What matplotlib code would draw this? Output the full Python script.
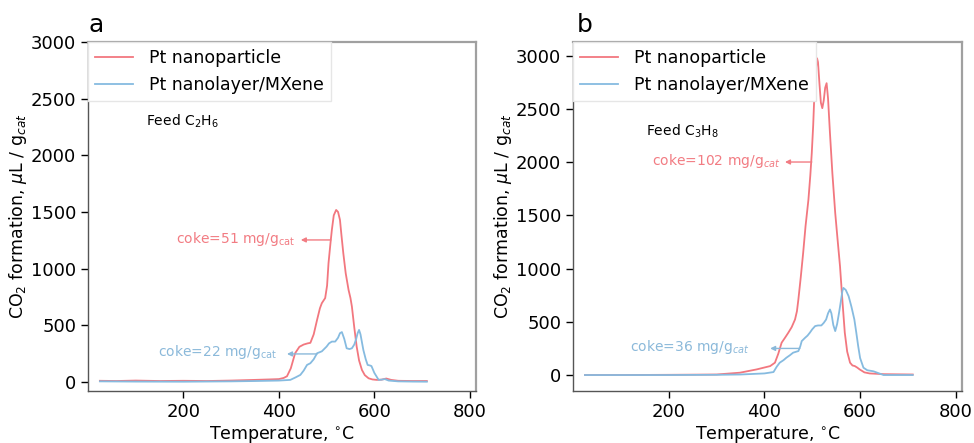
import matplotlib
matplotlib.use("Agg")
import matplotlib.pyplot as plt

# Colors
RED = "#f2777f"
BLUE = "#86bbe0"
RED_TXT = "#f27c83"
BLUE_TXT = "#8bb9da"

# Panel a: feed C2H6
a_red_T = [25, 60, 100, 150, 200, 250, 300, 350, 380, 400, 410, 417, 425, 434, 443, 452, 460, 466,
           473, 480, 486, 490, 497, 501, 504, 508, 511, 515, 520, 524, 528, 531, 535, 540, 546, 550,
           553, 558, 563, 568, 574, 580, 588, 596, 605, 615, 625, 635, 650, 680, 710]
a_red_v = [10, 8, 12, 8, 10, 8, 12, 18, 22, 25, 35, 50, 120, 253, 310, 330, 340, 345,
           420, 547, 650, 695, 740, 850, 1048, 1220, 1341, 1470, 1518, 1500, 1430, 1300, 1136, 960, 812, 740,
           665, 480, 312, 190, 106, 60, 32, 22, 18, 20, 30, 18, 10, 8, 8]

a_blue_T = [25, 100, 200, 300, 350, 400, 424, 435, 445, 452, 459, 466, 473, 480, 490, 500, 505, 511,
            518, 524, 528, 532, 537, 542, 548, 553, 558, 562, 565, 568, 571, 577, 582, 586, 591, 594,
            600, 609, 615, 622, 630, 650, 680, 710]
a_blue_v = [5, 3, 2, 5, 8, 12, 18, 40, 62, 100, 150, 165, 200, 253, 270, 312, 340, 356,
            356, 390, 430, 440, 380, 297, 290, 297, 330, 380, 430, 459, 420, 282, 200, 150, 145, 140,
            80, 18, 20, 25, 12, 5, 3, 2]

# Panel b: feed C3H8
b_red_T = [25, 100, 200, 300, 349, 384, 412, 422, 429, 436, 443, 450, 457, 464, 468, 471, 476, 481,
           486, 492, 496, 499, 502, 504, 507, 510, 512, 515, 518, 521, 524, 527, 530, 533, 537, 542,
           548, 553, 558, 563, 568, 573, 579, 584, 589, 594, 599, 609, 620, 650, 710]
b_red_v = [0, 0, 2, 5, 22, 53, 84, 116, 200, 304, 350, 398, 450, 522, 600, 710, 920, 1148,
           1400, 1648, 1880, 2086, 2350, 2586, 2850, 2977, 2940, 2743, 2560, 2508, 2580, 2700, 2743, 2600, 2274, 1900,
           1523, 1270, 1023, 700, 398, 220, 116, 90, 84, 70, 53, 25, 15, 8, 5]

b_blue_T = [25, 100, 200, 300, 350, 400, 419, 426, 432, 440, 446, 453, 460, 467, 471, 475, 478, 485,
            490, 495, 500, 506, 512, 519, 524, 529, 533, 537, 540, 544, 548, 552, 556, 560, 563, 565,
            570, 576, 582, 588, 592, 596, 600, 607, 615, 628, 640, 649, 680, 710]
b_blue_v = [0, 0, 0, 2, 5, 15, 28, 80, 116, 140, 163, 185, 210, 220, 225, 270, 319, 350,
            370, 398, 430, 460, 466, 466, 490, 522, 580, 616, 580, 470, 413, 480, 585, 700, 790, 819,
            800, 741, 640, 522, 400, 272, 160, 69, 45, 35, 15, 0, 0, 0]

LABELS = ["Pt nanoparticle", "Pt nanolayer/MXene"]
YTICKS = [0, 500, 1000, 1500, 2000, 2500, 3000]
XTICKS = [200, 400, 600, 800]

plt.rcParams["font.family"] = ["DejaVu Sans"]
plt.rcParams["mathtext.fontset"] = "dejavusans"

fig = plt.figure(figsize=(9.74, 4.43), dpi=100)
ax_a = fig.add_axes([0.0903, 0.1174, 0.3984, 0.7878])
ax_b = fig.add_axes([0.5883, 0.1174, 0.3994, 0.7878])


def style_axis(ax, ylim):
    ax.set_xlim(0, 813)
    ax.set_ylim(*ylim)
    ax.set_xticks(XTICKS)
    ax.set_yticks(YTICKS)
    ax.tick_params(direction="out", length=5, width=1, labelsize=13, colors="black")
    for side in ["left", "bottom"]:
        ax.spines[side].set_color("#555555")
        ax.spines[side].set_linewidth(1.0)
    for side in ["top", "right"]:
        ax.spines[side].set_color("#a0a0a0")
        ax.spines[side].set_linewidth(1.6)
    ax.set_xlabel("Temperature, $^{\\circ}$C", fontsize=12.5, labelpad=2)
    ax.set_ylabel("CO$_2$ formation, $\\mu$L / g$_{cat}$", fontsize=12.5, labelpad=1)
    leg = ax.legend(loc="upper left", fontsize=12.5, borderaxespad=0, handlelength=2.2,
                    handletextpad=0.9, fancybox=False, framealpha=1)
    leg.get_frame().set_edgecolor("#e6e6e6")
    leg.get_frame().set_linewidth(1.0)


def arrow_note(ax, text, color, text_x, text_y, head_x, tail_x, arrow_y):
    ax.text(text_x, text_y, text, color=color, fontsize=10, ha="right", va="center")
    ax.annotate("", xy=(head_x, arrow_y), xytext=(tail_x, arrow_y),
                arrowprops=dict(arrowstyle="-|>", color=color, lw=1, mutation_scale=7,
                                shrinkA=0, shrinkB=0))


# Panel a
ax_a.plot(a_red_T, a_red_v, color=RED, lw=1.3, label=LABELS[0])
ax_a.plot(a_blue_T, a_blue_v, color=BLUE, lw=1.3, label=LABELS[1])
style_axis(ax_a, (-80, 3000))
ax_a.text(121, 2297, "Feed C$_2$H$_6$", fontsize=10, va="center")
arrow_note(ax_a, "coke=51 mg/g$_{\\mathrm{cat}}$", RED_TXT, 434, 1265, 446, 509, 1253)
arrow_note(ax_a, "coke=22 mg/g$_{\\mathrm{cat}}$", BLUE_TXT, 396, 262, 417, 480, 247)

# Panel b
ax_b.plot(b_red_T, b_red_v, color=RED, lw=1.3, label=LABELS[0])
ax_b.plot(b_blue_T, b_blue_v, color=BLUE, lw=1.3, label=LABELS[1])
style_axis(ax_b, (-150, 3130))
ax_b.text(152, 2289, "Feed C$_3$H$_8$", fontsize=10, va="center")
arrow_note(ax_b, "coke=102 mg/g$_{cat}$", RED_TXT, 434, 2012, 443, 499, 2002)
arrow_note(ax_b, "coke=36 mg/g$_{cat}$", BLUE_TXT, 370, 262, 412, 474, 250)

# Panel letters
fig.text(0.091, 0.928, "a", fontsize=18, va="baseline")
fig.text(0.592, 0.928, "b", fontsize=18, va="baseline")

fig.savefig("out.png", dpi=100)
print("saved out.png")
